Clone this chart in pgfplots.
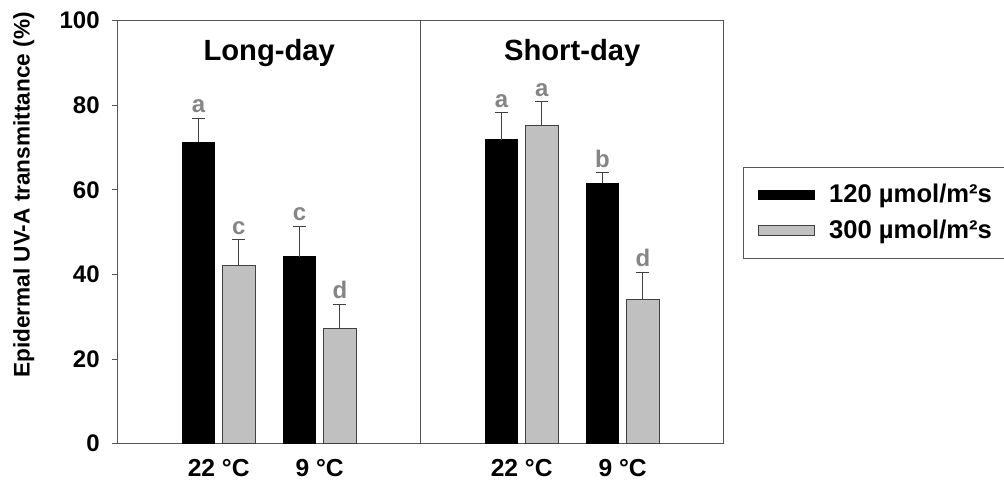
\documentclass[border=0pt]{standalone}
\usepackage{fontspec}
\setmainfont{Liberation Sans}
\usepackage{pgfplots}
\usepackage{pgfplotstable}
\pgfplotsset{compat=1.18}

\definecolor{barGray}{HTML}{C0C0C0}
\definecolor{frameGray}{HTML}{555555}
\definecolor{edgeGray}{HTML}{404040}
\definecolor{letterGray}{HTML}{858585}

% black bars: 120 umol/m2s ; gray bars: 300 umol/m2s
\pgfplotstableread{
x    y    err
1.6  71.3 5.6
3.6  44.2 7.2
7.6  71.9 6.3
9.6  61.6 2.4
}\lowlight
\pgfplotstableread{
x    y    err
2.4  42.1 6.1
4.4  27.3 5.7
8.4  75.3 5.5
10.4 34.2 6.3
}\highlight

\begin{document}
\begin{tikzpicture}
\begin{axis}[
  name=ax,
  scale only axis, width=303pt, height=211.5pt,
  xmin=0, xmax=12, ymin=0, ymax=100,
  axis line style={frameGray, line width=0.5pt},
  xtick={2,4,8,10},
  xticklabels={22 °C, 9 °C, 22 °C, 9 °C},
  x tick style={draw=none},
  ytick={0,20,...,100},
  ytick pos=left,
  tick align=outside,
  major tick length=3pt,
  y tick style={frameGray, line width=0.5pt},
  /pgf/number format/assume math mode=true,
  yticklabel style={font=\fontsize{12}{14}\selectfont\bfseries, xshift=-2.5pt},
  xticklabel style={font=\fontsize{12.3}{14}\selectfont\bfseries, yshift=-1.2pt},
  ylabel={Epidermal UV-A transmittance (\%)},
  ylabel style={at={(axis description cs:-0.155,0.588)}, anchor=center,
    font=\fontsize{11.3}{13}\selectfont\bfseries},
  bar width=0.65,
  legend style={at={(axis description cs:1.031,0.655)}, anchor=north west,
    draw=frameGray, line width=0.5pt,
    inner xsep=7.6pt, inner ysep=6.5pt,
    font=\fontsize{12.8}{15}\selectfont\bfseries,
    row sep=3pt, column sep=5pt},
  legend cell align=left,
  legend image code/.code={\draw[#1] (0pt,-2.3pt) rectangle (28pt,2.3pt);},
]
\addplot[ybar, bar shift=0pt, fill=black, draw=black, line width=0.5pt,
  error bars/.cd, y dir=plus, y explicit,
  error bar style={edgeGray, line width=0.5pt},
  error mark options={edgeGray, line width=0.5pt, mark size=3.25pt, rotate=90}]
  table[x=x, y=y, y error=err] {\lowlight};
\addlegendentry{120 µmol/m²s}
\addplot[ybar, bar shift=0pt, fill=barGray, draw=edgeGray, line width=0.5pt,
  error bars/.cd, y dir=plus, y explicit,
  error bar style={edgeGray, line width=0.5pt},
  error mark options={edgeGray, line width=0.5pt, mark size=3.25pt, rotate=90}]
  table[x=x, y=y, y error=err] {\highlight};
\addlegendentry{300 µmol/m²s}

% panel divider
\draw[frameGray, line width=0.5pt] (axis cs:6,0) -- (axis cs:6,100);

% panel titles
\node[anchor=base, font=\fontsize{14.6}{17}\selectfont\bfseries] at (axis cs:3,90.7) {Long-day};
\node[anchor=base, font=\fontsize{14.6}{17}\selectfont\bfseries] at (axis cs:9,90.7) {Short-day};

% significance letters
\begin{scope}[every node/.style={anchor=base, text=letterGray, font=\fontsize{12}{14}\selectfont\bfseries}]
\node at (axis cs:1.6,78.2) {a};
\node at (axis cs:2.4,49.5) {c};
\node at (axis cs:3.6,52.7) {c};
\node at (axis cs:4.4,34.3) {d};
\node at (axis cs:7.6,79.5) {a};
\node at (axis cs:8.4,82.1) {a};
\node at (axis cs:9.6,65.3) {b};
\node at (axis cs:10.4,41.8) {d};
\end{scope}
\end{axis}
\pgfresetboundingbox
\path[use as bounding box] ([xshift=-58.85pt,yshift=-19.15pt]ax.south west) rectangle ++(502pt,241pt);
\end{tikzpicture}
\end{document}
